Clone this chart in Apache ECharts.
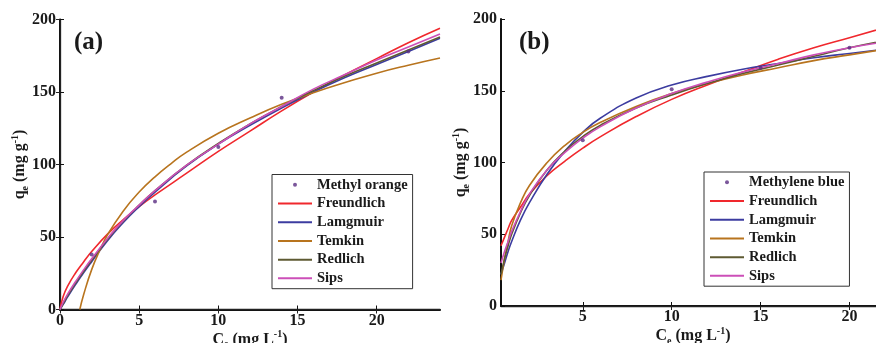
<!DOCTYPE html>
<html>
<head>
<meta charset="utf-8">
<script src="https://cdn.jsdelivr.net/npm/echarts@6/dist/echarts.min.js"></script>
<style>
  html, body { margin: 0; padding: 0; background: #fff; }
  #chart { width: 876px; height: 343px; }
</style>
</head>
<body>
<div id="chart"></div>
<script>
// (a) Methyl orange
const leftPointsX = [2, 6, 10, 14, 22];
const leftPointsY = [38, 74.5, 112, 146, 178];
const leftX = [0, 0.2, 0.5, 1, 1.5, 2, 3, 4, 5, 6, 8, 10, 12, 14, 16, 18, 20, 22, 24];
const leftFreundlich = [0, 9, 16.5, 25.5, 33, 40, 52, 62, 71, 79, 94, 109, 123, 137, 150, 162, 173, 184, 194];
const leftLangmuir = [0, 3.5, 9, 17.5, 25.5, 33, 47.5, 60, 71, 81, 99, 114, 127, 139, 150, 160, 169, 178, 187];
const leftRedlich = [0, 4, 10, 18.5, 26.5, 34, 48.5, 61, 72, 82, 99.5, 114.5, 128, 140, 151, 161, 170, 179, 188];
const leftSips = [0, 5, 11, 19.5, 27.5, 35, 49, 61.5, 72, 82, 99.5, 114, 128, 140, 152, 162, 172, 181, 190];
const leftTemkinX = [1.25, 1.5, 2, 2.5, 3, 4, 5, 6, 7, 8, 10, 12, 14, 16, 18, 20, 22, 24];
const leftTemkin = [0, 10.5, 27.5, 40.5, 51.5, 68, 81, 91.5, 100.5, 108.5, 121.5, 132, 141.5, 149.5, 156.5, 163, 168.5, 173.5];

// (b) Methylene blue
const rightPointsX = [5, 10, 15, 20];
const rightPointsY = [115.5, 151, 166, 180];
const rightX = [0.4, 0.6, 0.8, 1, 1.5, 2, 3, 4, 5, 6, 8, 10, 12, 14, 16, 18, 20, 22];
const rightFreundlich = [42, 48, 54, 59.6, 69, 78, 91, 101, 110, 118, 132, 144, 154, 163, 172, 180, 187, 194];
const rightLangmuir = [22, 30, 38, 45, 60, 72, 92, 108, 121, 131, 145, 154, 160, 165, 169, 173, 176, 179];
const rightTemkin = [18, 33, 45, 56, 72, 84, 100, 112, 121, 128, 139, 148, 155, 161, 166, 171, 175, 179];
const rightRedlich = [22, 33, 42, 50, 65, 77, 95, 108, 118, 126, 138, 147, 155, 162, 168, 174, 180, 185];
const rightSips = [30, 38, 45, 52, 66, 78, 95, 107, 117, 125, 138, 148, 156, 163, 169, 175, 180, 184];

const leftXTicks = [0, 5, 10, 15, 20];
const rightXTicks = [5, 10, 15, 20];
const modelNames = ["Freundlich", "Lamgmuir", "Temkin", "Redlich", "Sips"];

const COLORS = {
  Freundlich: "#f0282d",
  Lamgmuir: "#3c3ca0",
  Temkin: "#b8741e",
  Redlich: "#5e5a32",
  Sips: "#cc4fb8",
};
const POINT_COLOR = "#5a2d82";
const TEXT = "#1a1a1a";
const SERIF = "Liberation Serif, Times New Roman, serif";

const pairs = (xs, ys) => xs.map((x, i) => [x, ys[i]]);

const rich = {
  b: { fontFamily: SERIF, fontWeight: "bold", fontSize: 16, color: TEXT, lineHeight: 20 },
  s: { fontFamily: SERIF, fontWeight: "bold", fontSize: 10, color: TEXT, lineHeight: 10, verticalAlign: "bottom" },
  p: { fontFamily: SERIF, fontWeight: "bold", fontSize: 10, color: TEXT, lineHeight: 10, verticalAlign: "top" },
};
const xName = "{b|C}{s|e}{b| (mg L}{p|-1}{b|)}";
const yName = "{b|q}{s|e}{b| (mg g}{p|-1}{b|)}";

const tickLabel = { fontFamily: SERIF, fontWeight: "bold", fontSize: 16, color: TEXT };

function bottomAxis(grid, min, max, ticks) {
  return {
    type: "value", gridIndex: grid, position: "bottom", min, max,
    name: xName, nameLocation: "middle", nameGap: 20, nameMoveOverlap: false,
    nameTextStyle: { rich },
    axisLine: { lineStyle: { color: "#111", width: 2 } },
    axisTick: { inside: true, length: 4, customValues: ticks, lineStyle: { color: "#111" } },
    axisLabel: { ...tickLabel, margin: 3, customValues: ticks },
    splitLine: { show: false },
  };
}
function topAxis(grid, min, max, ticks) {
  return {
    type: "value", gridIndex: grid, position: "top", min, max,
    axisLine: { lineStyle: { color: "#222", width: 1.3 } },
    axisTick: { inside: true, length: 4, customValues: ticks, lineStyle: { color: "#222" } },
    axisLabel: { show: false },
    splitLine: { show: false },
  };
}
function leftAxis(grid) {
  return {
    type: "value", gridIndex: grid, position: "left", min: 0, max: 200, interval: 50,
    name: yName, nameLocation: "middle", nameGap: 30, nameMoveOverlap: false,
    nameTextStyle: { rich },
    axisLine: { show: true, lineStyle: { color: "#111", width: 2 } },
    axisTick: { show: true, inside: true, length: 4, lineStyle: { color: "#111" } },
    axisLabel: { ...tickLabel, margin: 4 },
    splitLine: { show: false },
  };
}
function rightAxis(grid) {
  return {
    type: "value", gridIndex: grid, position: "right", min: 0, max: 200, interval: 50,
    axisLine: { show: true, lineStyle: { color: "#222", width: 1.3 } },
    axisTick: { show: true, inside: true, length: 4, lineStyle: { color: "#222" } },
    axisLabel: { show: false },
    splitLine: { show: false },
  };
}

function scatter(name, xi, yi, xs, ys) {
  return {
    name, type: "scatter", xAxisIndex: xi, yAxisIndex: yi,
    symbol: "circle", symbolSize: 4,
    itemStyle: { color: POINT_COLOR },
    data: pairs(xs, ys), z: 3,
  };
}
function curve(name, xi, yi, xs, ys) {
  return {
    name, type: "line", xAxisIndex: xi, yAxisIndex: yi,
    smooth: true, showSymbol: false, symbol: "none",
    itemStyle: { color: COLORS[name] },
    lineStyle: { color: COLORS[name], width: 1.6 },
    data: pairs(xs, ys), z: 2,
  };
}

const LINE_ICON = "path://M0,0 L34,0 L34,2 L0,2 Z";
function legendFor(pointName, left, top) {
  return {
    left, top, orient: "vertical",
    itemWidth: 34, itemHeight: 4, itemGap: 0,
    borderColor: "#333", borderWidth: 1, borderRadius: 0,
    padding: [1, 5, 1, 6],
    backgroundColor: "#fff",
    textStyle: { fontFamily: SERIF, fontWeight: "bold", fontSize: 14.5, color: TEXT, lineHeight: 18.7 },
    data: [{ name: pointName, icon: "circle" }].concat(modelNames.map(n => ({ name: n, icon: LINE_ICON }))),
    selectedMode: false,
  };
}

const chart = echarts.init(document.getElementById("chart"), null, { renderer: "canvas" });

const option = {
  backgroundColor: "#fff",
  animation: false,
  title: [
    { text: "(a)", left: 69, top: 25, textStyle: { fontFamily: SERIF, fontWeight: "bold", fontSize: 25, color: TEXT } },
    { text: "(b)", left: 514, top: 25, textStyle: { fontFamily: SERIF, fontWeight: "bold", fontSize: 25, color: TEXT } },
  ],
  grid: [
    { left: 60, top: 19.5, width: 380, height: 290, outerBoundsMode: "none" },
    { left: 501, top: 19, width: 384, height: 287, outerBoundsMode: "none" },
  ],
  xAxis: [
    bottomAxis(0, 0, 24, leftXTicks),
    topAxis(0, 0, 24, leftXTicks),
    bottomAxis(1, 0.4, 22, rightXTicks),
    topAxis(1, 0.4, 22, rightXTicks),
  ],
  yAxis: [leftAxis(0), rightAxis(0), leftAxis(1), rightAxis(1)],
  legend: [
    legendFor("Methyl orange", 272, 174.5),
    legendFor("Methylene blue", 704, 172),
  ],
  series: [
    scatter("Methyl orange", 0, 0, leftPointsX, leftPointsY),
    curve("Freundlich", 0, 0, leftX, leftFreundlich),
    curve("Lamgmuir", 0, 0, leftX, leftLangmuir),
    curve("Temkin", 0, 0, leftTemkinX, leftTemkin),
    curve("Redlich", 0, 0, leftX, leftRedlich),
    curve("Sips", 0, 0, leftX, leftSips),

    scatter("Methylene blue", 2, 2, rightPointsX, rightPointsY),
    curve("Freundlich", 2, 2, rightX, rightFreundlich),
    curve("Lamgmuir", 2, 2, rightX, rightLangmuir),
    curve("Temkin", 2, 2, rightX, rightTemkin),
    curve("Redlich", 2, 2, rightX, rightRedlich),
    curve("Sips", 2, 2, rightX, rightSips),
  ],
};

chart.setOption(option);
</script>
</body>
</html>
